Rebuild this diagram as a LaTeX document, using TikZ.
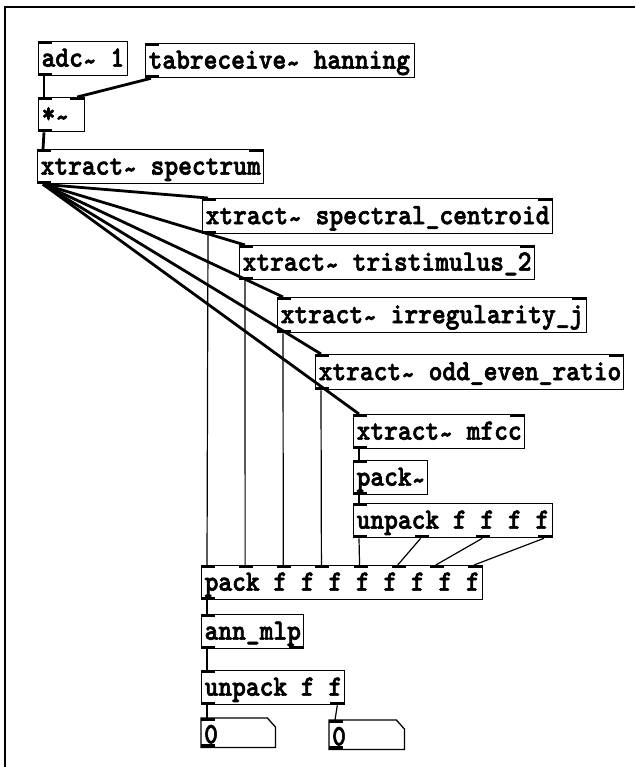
\documentclass[tikz,border=0pt]{standalone}
\usepackage{fontspec}
\usepackage{graphicx}
\usetikzlibrary{calc}

% patch font: heavy typewriter, one character = 13.76pt wide
\newfontfamily\pdfam{lmmonolt10-bold.otf}[FakeBold=2.2]
\newcommand\pdfont{\pdfam\fontsize{26.2}{30}\selectfont}
\newcommand\pdtext[1]{\scalebox{1}[1.12]{#1}}
% tilde sitting at mid x-height, as in the patch font
\newcommand\tl{\raisebox{-3.5pt}{\textasciitilde}}

\tikzset{
  x=1pt, y=1pt,
  obj/.style={draw, line width=1.3pt, anchor=north west, inner xsep=3pt,
    inner ysep=0pt, text height=25pt, text depth=9pt, font=\pdfont},
  numbox/.style={anchor=north west, inner xsep=3pt, inner ysep=0pt,
    text height=25pt, text depth=4pt, font=\pdfont},
  sig/.style={line width=2.8pt},
  ctl/.style={line width=1.2pt},
  portfill/.style={fill=black},
}

% object box: name, x, y, width, height, text
\newcommand\pdobj[6]{%
  \node[obj, minimum width=#4pt, minimum height=#5pt] (#1) at (#2,-#3)
    {\makebox[\dimexpr#4pt-6pt\relax][l]{\pdtext{#6}}};}

% inlets / outlets: node, width, count
\newcommand\inlets[3]{%
  \foreach \i in {1,...,#3}{%
    \pgfmathsetmacro\px{(\i-1)*(#2-14)/max(#3-1,1)}%
    \fill[portfill] ($(#1.north west)+(\px,0)$) rectangle ++(14,-3);}}
\newcommand\outlets[3]{%
  \foreach \i in {1,...,#3}{%
    \pgfmathsetmacro\px{(\i-1)*(#2-14)/max(#3-1,1)}%
    \fill[portfill] ($(#1.south west)+(\px,0)$) rectangle ++(14,3);}}

\begin{document}
\begin{tikzpicture}
\useasboundingbox (0,0) rectangle (635,-767);

% canvas edge
\draw[line width=1.6pt] (5,-767) -- (5,-7) -- (635,-7);

% objects
\pdobj{adc}{38}{41}{89}{33}{adc\tl{} 1}
\pdobj{tab}{145}{43}{269}{34}{tabreceive\tl{} hanning}
\pdobj{mul}{38}{97}{46}{32}{*\tl}
\pdobj{spec}{37}{149}{226}{34}{xtract\tl{} spectrum}
\pdobj{cent}{202}{198}{350}{35}{xtract\tl{} spectral\_centroid}
\pdobj{tri}{239}{245}{295}{33}{xtract\tl{} tristimulus\_2}
\pdobj{irr}{277}{297}{309}{35}{xtract\tl{} irregularity\_j}
\pdobj{odd}{315}{354}{308}{35}{xtract\tl{} odd\_even\_ratio}
\pdobj{mfcc}{353}{414}{171}{34}{xtract\tl{} mfcc}
\pdobj{packt}{353}{460}{74}{33}{pack\tl}
\pdobj{unp4}{353}{503}{199}{34}{unpack f f f f}
\pdobj{pack}{201}{565}{281}{34}{pack f f f f f f f f}
\pdobj{ann}{201}{614}{102}{34}{ann\_mlp}
\pdobj{unp2}{201}{670}{143}{33}{unpack f f}

% number boxes
\node[numbox, minimum width=74pt, minimum height=29pt] (num1) at (201,-718)
  {\makebox[68pt][l]{\pdtext{0}}};
\node[numbox, minimum width=75pt, minimum height=28pt] (num2) at (329,-720)
  {\makebox[69pt][l]{\pdtext{0}}};
\foreach \n in {num1,num2}
  \draw[line width=1.3pt] (\n.north west) -- ($(\n.north east)+(-8,0)$)
    -- ($(\n.north east)+(0,-9)$) -- (\n.south east) -- (\n.south west) -- cycle;

% ports
\inlets{adc}{89}{1}       \outlets{adc}{89}{1}
\inlets{tab}{269}{1}      \outlets{tab}{269}{1}
\inlets{mul}{46}{2}       \outlets{mul}{46}{1}
\inlets{spec}{226}{2}     \outlets{spec}{226}{1}
\inlets{cent}{350}{2}     \outlets{cent}{350}{1}
\inlets{tri}{295}{2}      \outlets{tri}{295}{1}
\inlets{irr}{309}{2}      \outlets{irr}{309}{1}
\inlets{odd}{308}{2}      \outlets{odd}{308}{1}
\inlets{mfcc}{171}{2}     \outlets{mfcc}{171}{1}
\inlets{packt}{74}{1}     \outlets{packt}{74}{1}
\inlets{unp4}{199}{1}     \outlets{unp4}{199}{4}
\inlets{pack}{281}{8}     \outlets{pack}{281}{1}
\inlets{ann}{102}{1}      \outlets{ann}{102}{2}
\inlets{unp2}{143}{1}     \outlets{unp2}{143}{2}
\inlets{num1}{74}{1}      \outlets{num1}{74}{1}
\inlets{num2}{75}{1}      \outlets{num2}{75}{1}

% signal connections
\draw[sig] ($(adc.south west)+(6,0)$) -- ($(mul.north west)+(6,0)$);
\draw[sig] ($(tab.south west)+(6,0)$) -- ($(mul.north east)+(-8,0)$);
\draw[sig] ($(mul.south west)+(6,0)$) -- ($(spec.north west)+(6,0)$);
\foreach \t in {cent,tri,irr,odd,mfcc}
  \draw[sig] ($(spec.south west)+(6,0)$) -- ($(\t.north west)+(6,0)$);
\draw[sig] ($(mfcc.south west)+(6,0)$) -- ($(packt.north west)+(6,0)$);

% control connections
\draw[ctl] ($(packt.south west)+(6,0)$) -- ($(unp4.north west)+(6,0)$);
\foreach \t [count=\k from 0] in {cent,tri,irr,odd}
  \draw[ctl] ($(\t.south west)+(6,0)$) -- ($(pack.north west)+({6+\k*38.14},0)$);
\foreach \k in {0,1,2,3}
  \draw[ctl] ($(unp4.south west)+({6+\k*61.67},0)$) -- ($(pack.north west)+({6+(\k+4)*38.14},0)$);
\draw[ctl] ($(pack.south west)+(6,0)$) -- ($(ann.north west)+(6,0)$);
\draw[ctl] ($(ann.south west)+(6,0)$) -- ($(unp2.north west)+(6,0)$);
\draw[ctl] ($(unp2.south west)+(6,0)$) -- ($(num1.north west)+(6,0)$);
\draw[ctl] ($(unp2.south east)+(-8,0)$) -- ($(num2.north west)+(6,0)$);
\end{tikzpicture}
\end{document}
